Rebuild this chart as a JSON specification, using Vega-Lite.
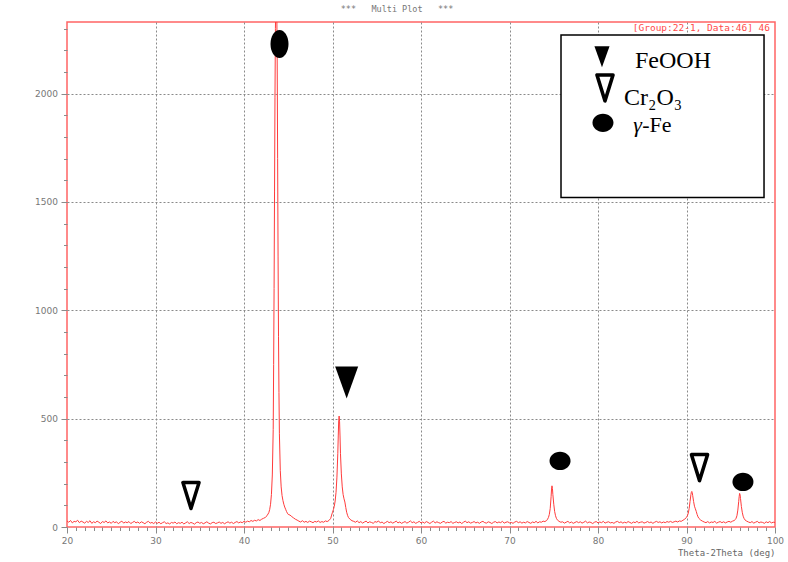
{
  "$schema": "https://vega.github.io/schema/vega-lite/v6.json",
  "width": 708,
  "height": 505,
  "autosize": "none",
  "padding": {"left": 67, "top": 22, "right": 13, "bottom": 35},
  "background": "white",
  "config": {"view": {"stroke": "#ff6464", "strokeWidth": 1.5}},
  "title": {"text": "***\u00a0\u00a0\u00a0Multi\u00a0Plot\u00a0\u00a0\u00a0***", "font": "DejaVu Sans Mono", "fontSize": 8.5, "fontWeight": "normal", "color": "#777777", "anchor": "middle", "dx": -24, "offset": 9},
  "datasets": {
    "xrd": [
      {"x":20.0,"y":28},{"x":20.2,"y":22},{"x":20.4,"y":30},{"x":20.6,"y":19},{"x":20.8,"y":26},{"x":21.0,"y":24},{"x":21.2,"y":31},{"x":21.4,"y":20},{"x":21.6,"y":27},{"x":21.8,"y":23},
      {"x":22.0,"y":18},{"x":22.2,"y":26},{"x":22.4,"y":21},{"x":22.6,"y":29},{"x":22.8,"y":17},{"x":23.0,"y":24},{"x":23.2,"y":20},{"x":23.4,"y":27},{"x":23.6,"y":22},{"x":23.8,"y":16},
      {"x":24.0,"y":25},{"x":24.2,"y":21},{"x":24.4,"y":28},{"x":24.6,"y":19},{"x":24.8,"y":23},{"x":25.0,"y":17},{"x":25.2,"y":26},{"x":25.4,"y":20},{"x":25.6,"y":24},{"x":25.8,"y":15},
      {"x":26.0,"y":22},{"x":26.2,"y":27},{"x":26.4,"y":18},{"x":26.6,"y":23},{"x":26.8,"y":20},{"x":27.0,"y":25},{"x":27.2,"y":16},{"x":27.4,"y":21},{"x":27.6,"y":26},{"x":27.8,"y":19},
      {"x":28.0,"y":23},{"x":28.2,"y":17},{"x":28.4,"y":24},{"x":28.6,"y":20},{"x":28.8,"y":15},{"x":29.0,"y":22},{"x":29.2,"y":26},{"x":29.4,"y":18},{"x":29.6,"y":21},{"x":29.8,"y":16},
      {"x":30.0,"y":23},{"x":30.2,"y":17},{"x":30.4,"y":22},{"x":30.6,"y":15},{"x":30.8,"y":20},{"x":31.0,"y":24},{"x":31.2,"y":16},{"x":31.4,"y":19},{"x":31.6,"y":14},{"x":31.8,"y":21},
      {"x":32.0,"y":18},{"x":32.2,"y":23},{"x":32.4,"y":15},{"x":32.6,"y":20},{"x":32.8,"y":17},{"x":33.0,"y":22},{"x":33.2,"y":14},{"x":33.4,"y":19},{"x":33.6,"y":24},{"x":33.8,"y":16},
      {"x":34.0,"y":21},{"x":34.2,"y":18},{"x":34.4,"y":13},{"x":34.6,"y":20},{"x":34.8,"y":23},{"x":35.0,"y":17},{"x":35.2,"y":21},{"x":35.4,"y":15},{"x":35.6,"y":19},{"x":35.8,"y":24},
      {"x":36.0,"y":18},{"x":36.2,"y":14},{"x":36.4,"y":20},{"x":36.6,"y":22},{"x":36.8,"y":16},{"x":37.0,"y":19},{"x":37.2,"y":23},{"x":37.4,"y":17},{"x":37.6,"y":21},{"x":37.8,"y":15},
      {"x":38.0,"y":20},{"x":38.2,"y":24},{"x":38.4,"y":18},{"x":38.6,"y":22},{"x":38.8,"y":16},{"x":39.0,"y":21},{"x":39.2,"y":25},{"x":39.4,"y":19},{"x":39.6,"y":23},{"x":39.8,"y":20},
      {"x":40.0,"y":26},{"x":40.2,"y":22},{"x":40.4,"y":27},{"x":40.6,"y":24},{"x":40.8,"y":30},{"x":41.0,"y":26},{"x":41.2,"y":31},{"x":41.4,"y":28},{"x":41.6,"y":34},{"x":41.8,"y":30},
      {"x":42.0,"y":36},{"x":42.2,"y":40},{"x":42.4,"y":44},{"x":42.6,"y":52},{"x":42.8,"y":66},{"x":42.9,"y":80},{"x":43.0,"y":105},{"x":43.1,"y":150},{"x":43.2,"y":240},{"x":43.3,"y":450},
      {"x":43.35,"y":750},{"x":43.4,"y":1100},{"x":43.45,"y":1550},{"x":43.5,"y":1980},{"x":43.55,"y":2300},{"x":43.6,"y":2450},{"x":43.65,"y":2500},{"x":43.7,"y":2420},{"x":43.75,"y":2150},{"x":43.8,"y":1700},
      {"x":43.85,"y":1250},{"x":43.9,"y":880},{"x":43.95,"y":620},{"x":44.0,"y":430},{"x":44.1,"y":260},{"x":44.2,"y":185},{"x":44.3,"y":145},{"x":44.4,"y":122},{"x":44.5,"y":105},{"x":44.6,"y":92},
      {"x":44.7,"y":82},{"x":44.8,"y":72},{"x":44.9,"y":64},{"x":45.0,"y":58},{"x":45.2,"y":55},{"x":45.4,"y":48},{"x":45.6,"y":42},{"x":45.8,"y":36},{"x":46.0,"y":32},
      {"x":46.2,"y":27},{"x":46.4,"y":23},{"x":46.6,"y":29},{"x":46.8,"y":22},{"x":47.0,"y":26},{"x":47.2,"y":21},{"x":47.4,"y":27},{"x":47.6,"y":24},{"x":47.8,"y":20},{"x":48.0,"y":26},
      {"x":48.2,"y":23},{"x":48.4,"y":28},{"x":48.6,"y":21},{"x":48.8,"y":25},{"x":49.0,"y":22},{"x":49.2,"y":28},{"x":49.4,"y":25},{"x":49.6,"y":30},{"x":49.8,"y":40},{"x":49.9,"y":55},
      {"x":50.0,"y":68},{"x":50.1,"y":80},{"x":50.2,"y":95},{"x":50.3,"y":120},{"x":50.4,"y":160},{"x":50.5,"y":230},{"x":50.6,"y":340},{"x":50.65,"y":420},{"x":50.7,"y":490},{"x":50.75,"y":512},
      {"x":50.8,"y":485},{"x":50.85,"y":420},{"x":50.9,"y":340},{"x":51.0,"y":245},{"x":51.1,"y":185},{"x":51.2,"y":150},{"x":51.3,"y":130},{"x":51.4,"y":115},{"x":51.5,"y":90},{"x":51.6,"y":68},
      {"x":51.7,"y":54},{"x":51.8,"y":44},{"x":52.0,"y":35},{"x":52.2,"y":29},
      {"x":52.4,"y":26},{"x":52.6,"y":22},{"x":52.8,"y":28},{"x":53.0,"y":20},{"x":53.2,"y":25},{"x":53.4,"y":18},{"x":53.6,"y":23},{"x":53.8,"y":27},{"x":54.0,"y":19},{"x":54.2,"y":24},
      {"x":54.4,"y":21},{"x":54.6,"y":17},{"x":54.8,"y":25},{"x":55.0,"y":22},{"x":55.2,"y":28},{"x":55.4,"y":19},{"x":55.6,"y":23},{"x":55.8,"y":16},{"x":56.0,"y":21},{"x":56.2,"y":26},
      {"x":56.4,"y":20},{"x":56.6,"y":24},{"x":56.8,"y":18},{"x":57.0,"y":22},{"x":57.2,"y":27},{"x":57.4,"y":19},{"x":57.6,"y":23},{"x":57.8,"y":17},{"x":58.0,"y":21},{"x":58.2,"y":25},
      {"x":58.4,"y":18},{"x":58.6,"y":22},{"x":58.8,"y":28},{"x":59.0,"y":20},{"x":59.2,"y":24},{"x":59.4,"y":17},{"x":59.6,"y":21},{"x":59.8,"y":26},{"x":60.0,"y":19},{"x":60.2,"y":23},
      {"x":60.4,"y":18},{"x":60.6,"y":25},{"x":60.8,"y":21},{"x":61.0,"y":16},{"x":61.2,"y":22},{"x":61.4,"y":27},{"x":61.6,"y":19},{"x":61.8,"y":24},{"x":62.0,"y":20},{"x":62.2,"y":17},
      {"x":62.4,"y":23},{"x":62.6,"y":26},{"x":62.8,"y":18},{"x":63.0,"y":22},{"x":63.2,"y":20},{"x":63.4,"y":25},{"x":63.6,"y":17},{"x":63.8,"y":21},{"x":64.0,"y":24},{"x":64.2,"y":19},
      {"x":64.4,"y":23},{"x":64.6,"y":16},{"x":64.8,"y":22},{"x":65.0,"y":27},{"x":65.2,"y":20},{"x":65.4,"y":24},{"x":65.6,"y":18},{"x":65.8,"y":21},{"x":66.0,"y":25},{"x":66.2,"y":19},
      {"x":66.4,"y":22},{"x":66.6,"y":17},{"x":66.8,"y":23},{"x":67.0,"y":26},{"x":67.2,"y":20},{"x":67.4,"y":18},{"x":67.6,"y":24},{"x":67.8,"y":21},{"x":68.0,"y":16},{"x":68.2,"y":22},
      {"x":68.4,"y":25},{"x":68.6,"y":19},{"x":68.8,"y":23},{"x":69.0,"y":20},{"x":69.2,"y":26},{"x":69.4,"y":18},{"x":69.6,"y":22},{"x":69.8,"y":24},{"x":70.0,"y":19},{"x":70.2,"y":21},
      {"x":70.4,"y":17},{"x":70.6,"y":23},{"x":70.8,"y":26},{"x":71.0,"y":20},{"x":71.2,"y":24},{"x":71.4,"y":18},{"x":71.6,"y":22},{"x":71.8,"y":19},{"x":72.0,"y":25},{"x":72.2,"y":21},
      {"x":72.4,"y":17},{"x":72.6,"y":23},{"x":72.8,"y":20},{"x":73.0,"y":26},{"x":73.2,"y":19},{"x":73.4,"y":24},{"x":73.6,"y":22},{"x":73.8,"y":27},{"x":74.0,"y":25},
      {"x":74.2,"y":30},{"x":74.3,"y":36},{"x":74.4,"y":44},{"x":74.5,"y":58},{"x":74.6,"y":85},{"x":74.7,"y":140},{"x":74.75,"y":175},{"x":74.8,"y":190},{"x":74.85,"y":178},{"x":74.9,"y":150},
      {"x":75.0,"y":105},{"x":75.1,"y":72},{"x":75.2,"y":52},{"x":75.3,"y":40},{"x":75.4,"y":33},{"x":75.6,"y":26},{"x":75.8,"y":22},
      {"x":76.0,"y":24},{"x":76.2,"y":18},{"x":76.4,"y":22},{"x":76.6,"y":26},{"x":76.8,"y":19},{"x":77.0,"y":23},{"x":77.2,"y":17},{"x":77.4,"y":21},{"x":77.6,"y":25},{"x":77.8,"y":20},
      {"x":78.0,"y":24},{"x":78.2,"y":18},{"x":78.4,"y":22},{"x":78.6,"y":27},{"x":78.8,"y":19},{"x":79.0,"y":23},{"x":79.2,"y":21},{"x":79.4,"y":16},{"x":79.6,"y":22},{"x":79.8,"y":25},
      {"x":80.0,"y":19},{"x":80.2,"y":23},{"x":80.4,"y":20},{"x":80.6,"y":26},{"x":80.8,"y":18},{"x":81.0,"y":22},{"x":81.2,"y":24},{"x":81.4,"y":19},{"x":81.6,"y":21},{"x":81.8,"y":17},
      {"x":82.0,"y":23},{"x":82.2,"y":26},{"x":82.4,"y":20},{"x":82.6,"y":24},{"x":82.8,"y":18},{"x":83.0,"y":22},{"x":83.2,"y":19},{"x":83.4,"y":25},{"x":83.6,"y":21},{"x":83.8,"y":17},
      {"x":84.0,"y":23},{"x":84.2,"y":20},{"x":84.4,"y":26},{"x":84.6,"y":19},{"x":84.8,"y":22},{"x":85.0,"y":24},{"x":85.2,"y":18},{"x":85.4,"y":21},{"x":85.6,"y":25},{"x":85.8,"y":20},
      {"x":86.0,"y":23},{"x":86.2,"y":17},{"x":86.4,"y":22},{"x":86.6,"y":26},{"x":86.8,"y":21},{"x":87.0,"y":24},{"x":87.2,"y":19},{"x":87.4,"y":23},{"x":87.6,"y":20},{"x":87.8,"y":25},
      {"x":88.0,"y":22},{"x":88.2,"y":26},{"x":88.4,"y":21},{"x":88.6,"y":24},{"x":88.8,"y":27},{"x":89.0,"y":23},{"x":89.2,"y":28},{"x":89.4,"y":26},{"x":89.6,"y":31},
      {"x":89.8,"y":36},{"x":90.0,"y":45},{"x":90.1,"y":52},{"x":90.2,"y":64},{"x":90.3,"y":85},{"x":90.4,"y":118},{"x":90.5,"y":150},{"x":90.55,"y":160},{"x":90.6,"y":164},{"x":90.65,"y":158},
      {"x":90.7,"y":145},{"x":90.8,"y":118},{"x":90.9,"y":96},{"x":91.0,"y":84},{"x":91.1,"y":72},{"x":91.2,"y":58},{"x":91.3,"y":47},{"x":91.4,"y":40},{"x":91.6,"y":32},{"x":91.8,"y":27},
      {"x":92.0,"y":23},{"x":92.2,"y":20},{"x":92.4,"y":25},{"x":92.6,"y":19},{"x":92.8,"y":23},{"x":93.0,"y":21},{"x":93.2,"y":26},{"x":93.4,"y":18},{"x":93.6,"y":22},{"x":93.8,"y":25},
      {"x":94.0,"y":20},{"x":94.2,"y":24},{"x":94.4,"y":19},{"x":94.6,"y":23},{"x":94.8,"y":26},{"x":95.0,"y":22},{"x":95.2,"y":27},{"x":95.4,"y":30},
      {"x":95.5,"y":34},{"x":95.6,"y":40},{"x":95.7,"y":52},{"x":95.8,"y":78},{"x":95.9,"y":118},{"x":95.95,"y":140},{"x":96.0,"y":155},{"x":96.05,"y":150},{"x":96.1,"y":132},{"x":96.2,"y":95},
      {"x":96.3,"y":68},{"x":96.4,"y":50},{"x":96.5,"y":40},{"x":96.6,"y":33},{"x":96.8,"y":27},
      {"x":97.0,"y":23},{"x":97.2,"y":20},{"x":97.4,"y":25},{"x":97.6,"y":18},{"x":97.8,"y":22},{"x":98.0,"y":26},{"x":98.2,"y":19},{"x":98.4,"y":23},{"x":98.6,"y":21},{"x":98.8,"y":17},
      {"x":99.0,"y":24},{"x":99.2,"y":20},{"x":99.4,"y":25},{"x":99.6,"y":19},{"x":99.8,"y":22},{"x":100.0,"y":21}
    ],
    "markers": [
      {"phase":"FeOOH","where":"plot","x":51.60,"y":667},
      {"phase":"FeOOH","where":"legend","x":80.45,"y":2170},
      {"phase":"Cr2O3","where":"plot","x":34.01,"y":145},
      {"phase":"Cr2O3","where":"plot","x":91.47,"y":274},
      {"phase":"Cr2O3","where":"legend","x":80.79,"y":2026},
      {"phase":"gFe","where":"main","x":44.01,"y":2229},
      {"phase":"gFe","where":"plot","x":75.71,"y":305},
      {"phase":"gFe","where":"plot","x":96.38,"y":208},
      {"phase":"gFe","where":"legend","x":80.56,"y":1865}
    ]
  },
  "layer": [
    {
      "data": {"values": [{"x":75.82,"x2":98.76,"y":1520,"y2":2270}]},
      "mark": {"type": "rect", "fill": "white", "stroke": "black", "strokeWidth": 1.5},
      "encoding": {
        "x": {"field": "x", "type": "quantitative", "scale": {"domain": [20, 100], "nice": false, "zero": false}},
        "x2": {"field": "x2"},
        "y": {"field": "y", "type": "quantitative", "scale": {"domain": [0, 2330], "nice": false, "zero": false}},
        "y2": {"field": "y2"}
      }
    },
    {
      "data": {"name": "xrd"},
      "mark": {"type": "line", "color": "#ff3b3b", "strokeWidth": 1, "clip": true},
      "encoding": {
        "x": {"field": "x", "type": "quantitative", "scale": {"domain": [20, 100], "nice": false, "zero": false},
          "axis": {
            "values": [20,21,22,23,24,25,26,27,28,29,30,31,32,33,34,35,36,37,38,39,40,41,42,43,44,45,46,47,48,49,50,51,52,53,54,55,56,57,58,59,60,61,62,63,64,65,66,67,68,69,70,71,72,73,74,75,76,77,78,79,80,81,82,83,84,85,86,87,88,89,90,91,92,93,94,95,96,97,98,99,100],
            "tickCount": 1000,
            "format": "d",
            "labelExpr": "datum.value % 10 === 0 ? datum.label : ''",
            "labelOverlap": false, "labelBound": false, "labelFlush": false,
            "domain": false,
            "grid": true, "gridColor": "#8a8a8a", "gridDash": [2, 2], "gridWidth": 1,
            "gridOpacity": {"condition": {"test": "datum.value % 10 === 0 && datum.value > 20 && datum.value < 100", "value": 1}, "value": 0},
            "tickColor": "#8a8a8a", "tickWidth": 1,
            "tickSize": {"condition": {"test": "datum.value % 10 === 0", "value": 6}, "value": 3.5},
            "labelColor": "#777777", "labelFont": "DejaVu Sans", "labelFontSize": 9, "labelPadding": 3,
            "title": "Theta-2Theta (deg)", "titleAnchor": "end", "titleFont": "DejaVu Sans Mono", "titleFontSize": 9, "titleFontWeight": "normal", "titleColor": "#666666", "titlePadding": 3
          }},
        "y": {"field": "y", "type": "quantitative", "scale": {"domain": [0, 2330], "nice": false, "zero": false},
          "axis": {
            "values": [0,100,200,300,400,500,600,700,800,900,1000,1100,1200,1300,1400,1500,1600,1700,1800,1900,2000,2100,2200,2300],
            "tickCount": 1000,
            "labelExpr": "datum.value % 500 === 0 ? datum.label : ''",
            "format": "d",
            "labelOverlap": false, "labelBound": false, "labelFlush": false,
            "domain": false,
            "grid": true, "gridColor": "#8a8a8a", "gridDash": [2, 2], "gridWidth": 1,
            "gridOpacity": {"condition": {"test": "datum.value % 500 === 0 && datum.value > 0", "value": 1}, "value": 0},
            "tickColor": "#8a8a8a", "tickWidth": 1,
            "tickSize": {"condition": {"test": "datum.value % 500 === 0", "value": 6}, "value": 3.5},
            "labelColor": "#777777", "labelFont": "DejaVu Sans", "labelFontSize": 9, "labelPadding": 3.5,
            "title": null
          }}
      }
    },
    {
      "data": {"name": "markers"},
      "transform": [{"filter": "datum.phase === 'FeOOH'"}],
      "mark": {"type": "point", "shape": "M-0.72,-1L0.72,-1L0,1Z", "filled": true, "color": "black", "opacity": 1},
      "encoding": {
        "x": {"field": "x", "type": "quantitative", "scale": {"domain": [20, 100], "nice": false, "zero": false}},
        "y": {"field": "y", "type": "quantitative", "scale": {"domain": [0, 2330], "nice": false, "zero": false}},
        "size": {"field": "where", "type": "nominal", "scale": {"domain": ["plot", "legend"], "range": [1024, 441]}, "legend": null}
      }
    },
    {
      "data": {"name": "markers"},
      "transform": [{"filter": "datum.phase === 'Cr2O3'"}],
      "mark": {"type": "point", "shape": "M-0.62,-1L0.62,-1L0,1Z", "filled": false, "fill": "white", "fillOpacity": 1, "stroke": "black", "strokeWidth": 3.5, "strokeJoin": "round", "opacity": 1, "size": 676},
      "encoding": {
        "x": {"field": "x", "type": "quantitative", "scale": {"domain": [20, 100], "nice": false, "zero": false}},
        "y": {"field": "y", "type": "quantitative", "scale": {"domain": [0, 2330], "nice": false, "zero": false}}
      }
    },
    {
      "data": {"name": "markers"},
      "transform": [{"filter": "datum.phase === 'gFe' && datum.where === 'main'"}],
      "mark": {"type": "point", "shape": "M0,-1C0.355,-1 0.643,-0.552 0.643,0C0.643,0.552 0.355,1 0,1C-0.355,1 -0.643,0.552 -0.643,0C-0.643,-0.552 -0.355,-1 0,-1Z", "filled": true, "color": "black", "opacity": 1, "size": 784},
      "encoding": {
        "x": {"field": "x", "type": "quantitative", "scale": {"domain": [20, 100], "nice": false, "zero": false}},
        "y": {"field": "y", "type": "quantitative", "scale": {"domain": [0, 2330], "nice": false, "zero": false}}
      }
    },
    {
      "data": {"name": "markers"},
      "transform": [{"filter": "datum.phase === 'gFe' && datum.where !== 'main'"}],
      "mark": {"type": "point", "shape": "M0,-0.87C0.552,-0.87 1,-0.48 1,0C1,0.48 0.552,0.87 0,0.87C-0.552,0.87 -1,0.48 -1,0C-1,-0.48 -0.552,-0.87 0,-0.87Z", "filled": true, "color": "black", "opacity": 1, "size": 441},
      "encoding": {
        "x": {"field": "x", "type": "quantitative", "scale": {"domain": [20, 100], "nice": false, "zero": false}},
        "y": {"field": "y", "type": "quantitative", "scale": {"domain": [0, 2330], "nice": false, "zero": false}}
      }
    },
    {
      "data": {"values": [{"label": "FeOOH", "x": 84.18, "y": 2119}, {"label": "Cr₂O₃", "x": 82.94, "y": 1947}]},
      "mark": {"type": "text", "font": "Liberation Serif", "fontSize": 24, "align": "left", "baseline": "alphabetic", "color": "black"},
      "encoding": {
        "x": {"field": "x", "type": "quantitative", "scale": {"domain": [20, 100], "nice": false, "zero": false}},
        "y": {"field": "y", "type": "quantitative", "scale": {"domain": [0, 2330], "nice": false, "zero": false}},
        "text": {"field": "label"}
      }
    },
    {
      "data": {"values": [{"label": "γ", "x": 83.99, "y": 1821}]},
      "mark": {"type": "text", "font": "Liberation Serif", "fontSize": 22, "fontStyle": "italic", "align": "left", "baseline": "alphabetic", "color": "black"},
      "encoding": {
        "x": {"field": "x", "type": "quantitative", "scale": {"domain": [20, 100], "nice": false, "zero": false}},
        "y": {"field": "y", "type": "quantitative", "scale": {"domain": [0, 2330], "nice": false, "zero": false}},
        "text": {"field": "label"}
      }
    },
    {
      "data": {"values": [{"label": "-Fe", "x": 85.0, "y": 1821}]},
      "mark": {"type": "text", "font": "Liberation Serif", "fontSize": 22, "align": "left", "baseline": "alphabetic", "color": "black"},
      "encoding": {
        "x": {"field": "x", "type": "quantitative", "scale": {"domain": [20, 100], "nice": false, "zero": false}},
        "y": {"field": "y", "type": "quantitative", "scale": {"domain": [0, 2330], "nice": false, "zero": false}},
        "text": {"field": "label"}
      }
    },
    {
      "data": {"values": [{"label": "[Group:22-1, Data:46] 46", "x": 99.44, "y": 2302}]},
      "mark": {"type": "text", "font": "DejaVu Sans Mono", "fontSize": 9.5, "align": "right", "baseline": "middle", "color": "#ff4a4a"},
      "encoding": {
        "x": {"field": "x", "type": "quantitative", "scale": {"domain": [20, 100], "nice": false, "zero": false}},
        "y": {"field": "y", "type": "quantitative", "scale": {"domain": [0, 2330], "nice": false, "zero": false}},
        "text": {"field": "label"}
      }
    }
  ]
}
